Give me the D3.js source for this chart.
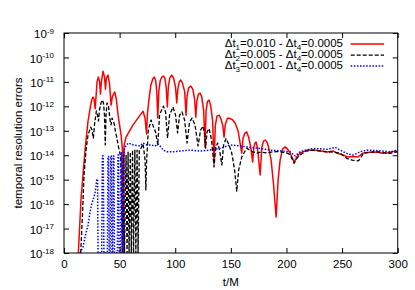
<!DOCTYPE html>
<html>
<head>
<meta charset="utf-8">
<script src="https://cdn.jsdelivr.net/npm/d3@7"></script>
<style>
body { margin: 0; background: #fff; }
text { font-family: "Liberation Sans", Arial, Helvetica, sans-serif; fill: #000; }
</style>
</head>
<body>
<script>
var W = 415, H = 290;
var M = { left: 64, right: 17.3, top: 33, bottom: 37 };
var FONT = "11.5px";

// x ticks (t/M) and y ticks as powers of ten
var X_TICKS = [0, 50, 100, 150, 200, 250, 300];
var Y_EXPS = [-18, -17, -16, -15, -14, -13, -12, -11, -10, -9];

// legend: step of each run, compared against the finest step
var STEPS = ["0.010", "0.005", "0.001"];
var REF_STEP = "0.0005";

// [t/M, log10(error)]
var red = [
  [12.9,-18],[15.3,-15.8],[18.9,-13.8],[21.6,-12.6],[23.8,-12.0],[25.2,-11.7],[26.1,-11.62],[27.0,-11.7],
  [28.0,-12.1],[28.8,-11.6],[29.7,-11.0],[30.9,-10.8],[32.0,-11.0],[32.8,-11.5],[33.6,-11.0],[35.1,-10.56],
  [36.4,-10.8],[37.3,-11.3],[38.1,-10.85],[39.6,-10.72],[41.0,-11.1],[42.3,-11.95],[43.5,-11.6],[45.6,-11.41],
  [47.0,-11.7],[48.6,-12.36],[51.3,-13.17],[52.6,-13.8],[53.3,-18],[54.0,-13.6],[55.8,-13.26],[62.1,-12.76],
  [68.4,-12.36],[71.1,-12.2],[72.9,-12.5],[74.2,-13.13],
  [75.0,-12.3],[76.2,-11.8],[78.0,-11.15],[79.8,-10.88],[81.2,-10.8],[82.4,-10.95],[83.4,-11.4],[84.3,-12.48],
  [85.2,-11.4],[86.5,-10.95],[88.0,-10.8],[89.3,-10.76],[90.7,-10.85],[91.9,-11.25],[92.9,-12.03],
  [93.8,-11.2],[95.1,-10.85],[96.9,-10.72],[98.5,-10.85],[100.2,-11.2],[101.4,-11.86],
  [102.3,-11.3],[103.6,-11.0],[104.9,-10.92],[106.5,-11.05],[108.5,-11.4],[109.7,-12.36],
  [110.6,-11.6],[112.0,-11.25],[114.0,-11.17],[115.8,-11.3],[117.4,-11.7],[118.5,-12.44],
  [119.4,-11.8],[120.8,-11.5],[122.3,-11.46],[123.8,-11.6],[125.6,-12.2],[126.8,-13.66],
  [127.7,-12.2],[129.0,-11.8],[130.4,-11.74],[131.8,-11.95],[133.6,-12.6],[134.9,-14.36],
  [136.0,-12.8],[137.5,-12.4],[139.4,-12.36],[141.0,-12.5],[142.8,-12.8],[143.9,-13.26],
  [145.0,-12.75],[146.8,-12.5],[148.4,-12.48],[151.5,-12.55],[153.8,-12.68],[156.5,-13.0],[159.8,-13.91],
  [161.0,-13.3],[162.6,-13.1],[164.3,-13.05],[166.2,-13.3],[168.0,-13.7],[169.6,-14.28],
  [170.6,-13.7],[171.7,-13.5],[172.7,-13.46],[174.0,-13.7],[176.3,-14.81],[177.8,-13.7],[179.3,-13.42],[180.8,-13.38],
  [182.3,-13.45],[183.8,-13.65],[186.2,-14.2],[188.4,-15.2],[189.6,-15.9],[190.7,-16.53],[191.8,-15.6],[192.5,-15.0],
  [194.3,-14.2],[196.5,-13.75],[198.8,-13.66],[201.0,-13.75],[203.3,-13.91],[206.9,-14.28],[209.6,-14.05],[212.3,-13.91],
  [218,-13.8],[224,-13.79],[230,-13.82],[236.6,-13.87],[242,-13.83],[246,-13.92],[251,-13.99],[254.6,-14.07],
  [260,-14.05],[264.4,-14.07],[268.9,-13.91],[275,-13.88],[281.5,-13.87],[286,-13.92],[290.5,-13.91],[295,-13.86],
  [300,-13.83]
];

var black = [
  [15.0,-18],[16.6,-16.45],[18.0,-14.81],[19.8,-13.79],[21.6,-13.17],[24.0,-12.85],[25.2,-12.97],[26.4,-13.3],
  [27.4,-12.76],[29.1,-12.19],[30.1,-12.36],[31.0,-12.6],[31.9,-12.15],[33.3,-11.86],[34.2,-11.74],[35.5,-11.86],
  [36.4,-12.36],[37.1,-13.58],[37.8,-12.36],[38.7,-11.86],[40.0,-11.99],[41.4,-12.56],[42.3,-12.76],[43.2,-12.48],
  [45.0,-12.68],[46.3,-13.05],[47.4,-13.26],[48.6,-13.58],[51.0,-14.07],[52.4,-18],[53.5,-13.99],[54.4,-18],
  [55.8,-13.99],[56.7,-18],[57.6,-13.87],[58.5,-18],[59.6,-13.87],[60.5,-18],[61.6,-13.79],[62.5,-18],
  [63.7,-13.79],[64.6,-18],[65.7,-13.79],[66.6,-18],[67.7,-13.79],[69.3,-13.71],[71.1,-13.54],[72.9,-14.2],
  [73.6,-15.42],[74.3,-14.2],[75.8,-12.97],[78.3,-12.56],[80.5,-12.85],[82.3,-13.05],[84.3,-13.58],[85.9,-12.36],
  [89.3,-11.99],[91.3,-12.23],[93.1,-13.3],[94.9,-12.36],[98.0,-12.03],[100.3,-12.36],[102.1,-13.09],[103.9,-12.36],
  [106.1,-12.23],[108.4,-12.56],[110.6,-13.5],[112.9,-12.64],[115.1,-12.48],[117.8,-12.76],[120.5,-13.62],[122.8,-12.97],
  [125.0,-12.81],[126.6,-13.17],[127.3,-13.71],[128.6,-13.05],[130.4,-12.91],[132.7,-13.38],[134.9,-14.48],[136.3,-13.71],
  [138.1,-13.5],[139.9,-13.79],[141.9,-14.4],[143.5,-13.58],[145.7,-13.32],[148.4,-13.58],[150.8,-13.91],[153.4,-14.61],
  [155.3,-15.47],[157.0,-14.61],[159.8,-14.07],[164.3,-13.71],[168.8,-13.85],[173.3,-13.91],[177.2,-13.87],[182.3,-13.91],
  [186.2,-13.87],[191.3,-13.85],[196.1,-13.87],[201.8,-13.93],[204.2,-14.07],[206.9,-14.33],[209.6,-14.11],[212.3,-13.99],
  [217.7,-13.83],[224.2,-13.79],[230.3,-13.83],[236.3,-13.86],[242.0,-13.87],[248.3,-13.92],[251.4,-14.03],[254.3,-14.13],
  [259.1,-14.2],[264.7,-14.23],[267.2,-14.07],[269.2,-13.92],[275.2,-13.87],[281.3,-13.86],[286.9,-13.89],[293.2,-13.92],
  [300,-13.86]
];

var blue = [
  [14.4,-18],[17.1,-17.76],[19.3,-17.27],[21.6,-16.86],[23.4,-16.32],[24.9,-16.0],[26.1,-15.83],[27.9,-15.55],
  [29.4,-15.02],[30.2,-14.97],[30.6,-18],
  [33.9,-18],[34.5,-14.03],[35.3,-14.03],[35.9,-18],
  [39.0,-18],[39.5,-14.05],[40.1,-14.05],[40.6,-18],
  [41.5,-18],[42.0,-14.03],[42.6,-14.03],[43.1,-18],
  [43.8,-18],[44.3,-14.03],[44.9,-14.03],[45.4,-18],
  [48.0,-18],[48.5,-13.99],[49.1,-13.99],[49.6,-18],
  [50.9,-18],[51.4,-13.87],[52.0,-14.1],[52.5,-18],
  [53.1,-18],[54.0,-13.79],[54.9,-13.66],[57.8,-13.5],[62.3,-13.58],[68.4,-13.62],[71.1,-13.5],
  [74.4,-13.58],[77.4,-13.58],[81.9,-13.62],[84.8,-13.54],[89.3,-13.79],[92.4,-13.86],[95.4,-13.86],[98.3,-13.86],
  [104.3,-13.83],[113.3,-13.79],[122.3,-13.83],[131.3,-13.79],[140.3,-13.72],[149.3,-13.58],[158.3,-13.62],[167.3,-13.68],
  [176.3,-13.72],[185.3,-13.79],[194.3,-13.82],[203.3,-13.86],[207.8,-14.03],[212.3,-13.86],[217.7,-13.79],[224.2,-13.72],
  [236.3,-13.76],[243.8,-13.68],[251.2,-13.86],[255.5,-13.95],[260.2,-13.99],[266.2,-13.86],[272.3,-13.79],[284.2,-13.82],
  [293.2,-13.86],[300,-13.79]
];

var SERIES = [
  { data: red,   color: "#ff0000", dash: null,      width: 1.5 },
  { data: black, color: "#000000", dash: "4,2",     width: 1.3 },
  { data: blue,  color: "#0000ff", dash: "1.5,1.6", width: 1.5 }
];

var pw = W - M.left - M.right;
var ph = H - M.top - M.bottom;

var svg = d3.select("body").append("svg")
    .attr("width", W)
    .attr("height", H);

var x = d3.scaleLinear().domain([0, 300]).range([0, pw]);
var y = d3.scaleLog().domain([1e-18, 1e-9]).range([ph, 0]);

var g = svg.append("g").attr("transform", "translate(" + M.left + "," + M.top + ")");

g.append("clipPath").attr("id", "clip")
  .append("rect").attr("width", pw).attr("height", ph);

var line = d3.line()
    .x(function(d) { return x(d[0]); })
    .y(function(d) { return y(Math.pow(10, d[1])); });

g.append("g").attr("clip-path", "url(#clip)")
  .selectAll("path")
  .data(SERIES)
  .enter().append("path")
    .attr("d", function(s) { return line(s.data); })
    .attr("fill", "none")
    .attr("stroke", function(s) { return s.color; })
    .attr("stroke-width", function(s) { return s.width; })
    .attr("stroke-dasharray", function(s) { return s.dash; })
    .attr("stroke-linejoin", "round");

// axes, ticks pointing inward like gnuplot
var yVals = Y_EXPS.map(function(e) { return Math.pow(10, e); });

var gx = g.append("g").attr("transform", "translate(0," + ph + ")")
    .call(d3.axisBottom(x).tickValues(X_TICKS).tickSizeInner(-5).tickSizeOuter(0).tickPadding(7));
g.append("g")
    .call(d3.axisTop(x).tickValues(X_TICKS).tickSizeInner(-5).tickSizeOuter(0).tickFormat(""));
var gy = g.append("g")
    .call(d3.axisLeft(y).tickValues(yVals).tickSizeInner(-5).tickSizeOuter(0).tickPadding(10).tickFormat(""));
g.append("g").attr("transform", "translate(" + pw + ",0)")
    .call(d3.axisRight(y).tickValues(yVals).tickSizeInner(-5).tickSizeOuter(0).tickFormat(""));

g.selectAll(".domain").remove();
g.selectAll(".tick line").attr("stroke", "#000");

gx.selectAll("text").attr("font-size", FONT).attr("font-family", null);

gy.selectAll(".tick text")
    .attr("font-size", FONT)
    .attr("font-family", null)
    .attr("dy", "0.4em")
    .each(function(d, i) {
        var t = d3.select(this);
        t.text("10");
        t.append("tspan").attr("dy", -4.5).attr("font-size", "8px").text(Y_EXPS[i]);
    });

// frame
g.append("rect")
    .attr("width", pw).attr("height", ph)
    .attr("fill", "none").attr("stroke", "#000").attr("stroke-width", 1);

// titles
svg.append("text")
    .attr("x", M.left + pw / 2).attr("y", 286)
    .attr("text-anchor", "middle").attr("font-size", FONT)
    .text("t/M");

svg.append("text")
    .attr("transform", "translate(21.5," + (M.top + ph / 2) + ") rotate(-90)")
    .attr("text-anchor", "middle").attr("font-size", FONT)
    .text("temporal resolution errors");

// legend
var leg = svg.append("g");
STEPS.forEach(function(step, i) {
    var by = 47.3 + i * 11;
    var t = leg.append("text")
        .attr("x", 343).attr("y", by)
        .attr("text-anchor", "end").attr("font-size", FONT);
    t.append("tspan").text("\u0394t");
    t.append("tspan").attr("dy", 3).attr("font-size", "8px").text(i + 1);
    t.append("tspan").attr("dy", -3).text("=" + step + " - \u0394t");
    t.append("tspan").attr("dy", 3).attr("font-size", "8px").text("4");
    t.append("tspan").attr("dy", -3).text("=" + REF_STEP);

    var s = SERIES[i];
    leg.append("line")
        .attr("x1", 350.7).attr("x2", 384)
        .attr("y1", by - 3.2).attr("y2", by - 3.2)
        .attr("stroke", s.color)
        .attr("stroke-width", s.width)
        .attr("stroke-dasharray", s.dash);
});
</script>
</body>
</html>
